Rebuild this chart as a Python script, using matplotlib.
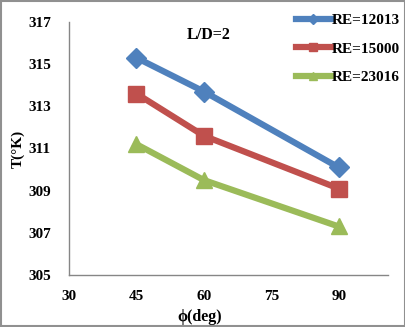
import matplotlib
matplotlib.use("Agg")
import matplotlib.pyplot as plt
from matplotlib.patches import Rectangle

phi = [45, 60, 90]
re_labels = ["RE=12013", "RE=15000", "RE=23016"]
t_12013 = [315.3, 313.7, 310.1]
t_15000 = [313.6, 311.6, 309.1]
t_23016 = [311.2, 309.5, 307.3]
xticks = [30, 45, 60, 75, 90]
yticks = [305, 307, 309, 311, 313, 315, 317]

colors = ["#4F81BD", "#C0504D", "#9BBB59"]
markers = ["D", "s", "^"]
sizes = [10, 11, 11]

plt.rcParams['font.family'] = ['Liberation Serif', 'DejaVu Serif']
plt.rcParams['font.weight'] = 'bold'

fig = plt.figure(figsize=(4.06, 3.27), dpi=100)
ax = fig.add_axes([0.170, 0.159, 0.786, 0.774])

for y, lab, c, m, s in zip([t_12013, t_15000, t_23016], re_labels, colors, markers, sizes):
    ax.plot(phi, y, color=c, lw=4.5, marker=m, markersize=s, label=lab)

ax.set_xlim(30, 101)
ax.set_ylim(305, 317)
ax.set_xticks(xticks)
ax.set_yticks(yticks)
ax.tick_params(axis='x', length=0, labelsize=11, pad=11)
ax.tick_params(axis='y', length=0, labelsize=11, pad=13)
for lab in ax.get_xticklabels() + ax.get_yticklabels():
    lab.set_fontweight('bold')
for sp in ['top', 'right']:
    ax.spines[sp].set_visible(False)
for sp in ['left', 'bottom']:
    ax.spines[sp].set_color('#868686')
    ax.spines[sp].set_linewidth(1)

ax.set_xlabel("ϕ(deg)", fontsize=11.5, fontweight='bold', labelpad=0)
ax.xaxis.set_label_coords(0.41, -0.135)
ax.set_ylabel("T(°K)", fontsize=11, fontweight='bold')
ax.yaxis.set_label_coords(-0.14, 0.5)
ax.text(61, 316.4, "L/D=2", fontsize=11.5, fontweight='bold', ha='center', va='center')

leg = fig.legend(loc='upper right', bbox_to_anchor=(1.02, 1.0), frameon=False,
                 fontsize=11, handlelength=2.3, handletextpad=0.1,
                 labelspacing=0.95, markerscale=0.55)

fig.patches.append(Rectangle((0.002, 0.003), 0.996, 0.994, transform=fig.transFigure,
                             fill=False, edgecolor='#909090', lw=1.5))

fig.savefig("out.png", dpi=100)
